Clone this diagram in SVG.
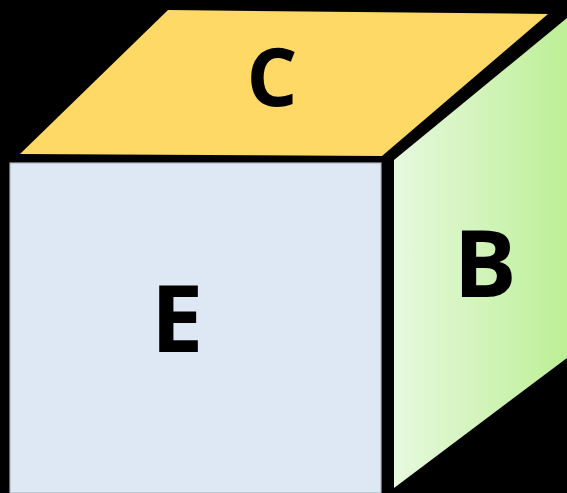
<svg xmlns="http://www.w3.org/2000/svg" width="567" height="493" viewBox="0 0 567 493">
<defs>
<linearGradient id="gB" x1="0" y1="0" x2="1" y2="0">
<stop offset="0" stop-color="#E7F9DE"/>
<stop offset="1" stop-color="#BDEF96"/>
</linearGradient>
<style>
.lbl{font-family:"Open Sans","Liberation Sans",sans-serif;font-weight:bold;fill:#000;text-anchor:middle}
</style>
</defs>
<rect x="0" y="0" width="567" height="493" fill="#000"/>
<g id="top">
<polygon points="168,10 548,14 382,156 20,154" fill="#FFD966"/>
<text class="lbl" x="272" y="106" font-size="80">C</text>
</g>
<g id="front">
<rect x="10" y="163" width="371" height="330" fill="#DEE8F4" stroke="#A9B4C2" stroke-width="1.2"/>
<text class="lbl" x="177" y="352" font-size="94">E</text>
</g>
<g id="right">
<polygon points="394,160 567,18 567,358 394,488" fill="url(#gB)"/>
<text class="lbl" x="485" y="297" font-size="94">B</text>
</g>
<g id="connectors"/>
</svg>
